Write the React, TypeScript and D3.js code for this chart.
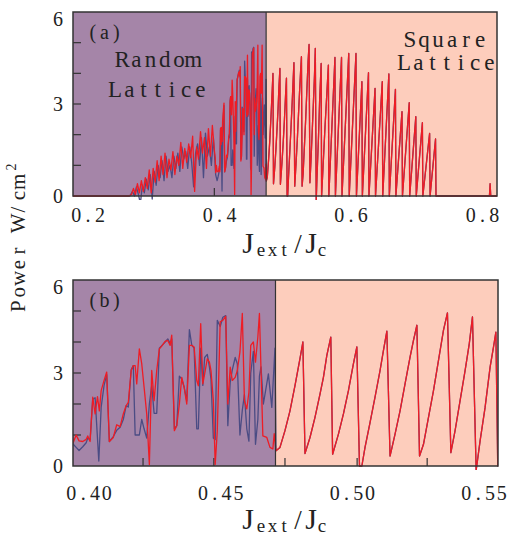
import React from 'react';
import * as d3 from 'd3';

type Pt = [number, number];

const WIDTH = 509;
const HEIGHT = 533;

// axis ticks
const yMinorTicks = [1, 2, 3, 4, 5];
const yTickLabels = [0, 3, 6];
const topTickLabels = [0.2, 0.4, 0.6, 0.8];
const topMinorTicks = [0.392];
const bottomTickLabels = [0.4, 0.45, 0.5, 0.55];
const bottomMinorTicks = [0.4205, 0.4474, 0.4744, 0.5018, 0.5284];

// J_ext / J_c where the lattice changes from random to square
const latticeBoundary = 0.4708;

// red curve, random lattice part
const redRandom: Pt[] = [
    [0.177, 0], [0.262, 0], [0.266, 0.05], [0.269, 0.25], [0.272, 0.05], [0.275, 0.4], [0.278, 0.1],
    [0.281, 0.5], [0.284, 0.15], [0.287, 0.6], [0.29, 0.25], [0.293, 0.85], [0.296, 0.1], [0.299, 0.9],
    [0.302, 0.45], [0.305, 1.15], [0.308, 0.5], [0.311, 1.3], [0.314, 0.7], [0.317, 1.4], [0.32, 0.6],
    [0.323, 1.2], [0.326, 0.85], [0.329, 1.45], [0.332, 0.7], [0.335, 1.3], [0.338, 1.0], [0.341, 1.75],
    [0.344, 0.9], [0.347, 1.55], [0.35, 1.1], [0.353, 1.7], [0.356, 1.25], [0.359, 1.95], [0.362, 0.15],
    [0.365, 1.6], [0.368, 1.2], [0.371, 2.1], [0.374, 1.4], [0.377, 1.9], [0.38, 0.9], [0.383, 2.2],
    [0.386, 1.3], [0.389, 2.3], [0.392, 1.5], [0.3934, 1.24],
    [0.394, 0.76], [0.3951, 1.0], [0.3962, 0.81], [0.3976, 0.79], [0.3989, 0.86], [0.3995, 0.97],
    [0.4004, 0.79], [0.4014, 2.22], [0.4023, 1.68], [0.4032, 2.24], [0.4039, 1.78], [0.4046, 2.43],
    [0.4057, 2.76], [0.4067, 3.03], [0.4077, 0.79], [0.4092, 0.92], [0.4105, 1.33], [0.4118, 1.27],
    [0.413, 1.68], [0.4141, 1.95], [0.4149, 2.05], [0.416, 3.08], [0.4168, 3.24], [0.4175, 3.24],
    [0.4181, 2.65], [0.4191, 3.78], [0.42, 3.3], [0.4209, 2.54], [0.4219, 1.68], [0.4229, 0.05],
    [0.4238, 3.08], [0.4247, 2.11], [0.4257, 3.08], [0.4267, 3.78], [0.4278, 3.89], [0.4289, 4.02],
    [0.4299, 4.05], [0.4308, 3.89], [0.4314, 4.22], [0.4324, 1.14], [0.4333, 1.3], [0.4343, 2.0],
    [0.4352, 2.86], [0.4361, 2.54], [0.4371, 2.0], [0.4381, 3.89], [0.439, 3.89], [0.4399, 3.84],
    [0.4409, 2.76], [0.4415, 2.59], [0.4424, 4.59], [0.4432, 2.65], [0.4439, 2.97], [0.4449, 3.46],
    [0.4457, 3.35], [0.4463, 3.08], [0.4472, 2.11], [0.4479, 0.05], [0.4487, 1.14], [0.4498, 4.65],
    [0.4508, 4.7], [0.4519, 4.83], [0.4527, 2.0], [0.4536, 3.19], [0.4544, 2.76], [0.4555, 2.86],
    [0.4563, 3.08], [0.4573, 3.68], [0.4582, 4.92], [0.459, 2.11], [0.4599, 1.84], [0.4607, 2.38],
    [0.4614, 3.89], [0.4624, 4.0], [0.4632, 3.35], [0.4641, 4.16], [0.4647, 4.92], [0.466, 0.97],
    [0.4675, 0.92], [0.4687, 0.6], [0.4698, 0.55], [0.4703, 1.04], [0.471, 0.49]
];

// blue curve, random lattice part
const blueRandom: Pt[] = [
    [0.177, 0], [0.2635, 0], [0.2675, 0.15], [0.2705, 0], [0.2735, 0.3], [0.2765, 0.05], [0.2795, -0.25],
    [0.2825, 0.35], [0.2855, 0.1], [0.2885, 0.55], [0.2915, 0.2], [0.2945, 0.7], [0.2975, -0.1], [0.3005, 0.8],
    [0.3035, 0.35], [0.3065, 1.0], [0.3095, 0.6], [0.3125, 1.15], [0.3155, 0.5], [0.3185, 1.3], [0.3215, 0.8],
    [0.3245, 1.0], [0.3275, 0.6], [0.3305, 1.3], [0.3335, 0.9], [0.3365, 1.4], [0.3395, 0.8], [0.3425, 1.6],
    [0.3455, 1.2], [0.3485, 1.45], [0.3515, 0.9], [0.3545, 1.6], [0.3575, 1.1], [0.3605, 0.3], [0.3635, 1.4],
    [0.3665, 1.7], [0.3695, 1.0], [0.3725, 1.9], [0.3755, 0.6], [0.3785, 2.05], [0.3815, 1.3], [0.3845, 1.6],
    [0.3875, 1.0], [0.3905, 1.9], [0.393, 1.1],
    [0.394, 0.7], [0.3951, 0.6], [0.3962, 0.5], [0.3976, 0.62], [0.3989, 0.75], [0.3995, 0.9],
    [0.4004, 0.85], [0.4014, 2.15], [0.4023, 2.2], [0.4037, 0.16], [0.4046, 1.9], [0.4057, 2.6],
    [0.4067, 2.95], [0.4077, 0.79], [0.4092, 0.95], [0.4105, 1.15], [0.4118, 1.25], [0.413, 1.5],
    [0.4141, 1.95], [0.4149, 1.9], [0.416, 3.1], [0.4168, 3.24], [0.4175, 1.0], [0.4191, 1.0],
    [0.42, 1.5], [0.4209, 1.2], [0.4219, 0.9], [0.4229, 2.0], [0.4238, 2.6], [0.4247, 1.7],
    [0.4257, 1.7], [0.4267, 3.8], [0.4278, 3.9], [0.4289, 4.0], [0.4299, 4.1], [0.4308, 3.95],
    [0.4314, 4.1], [0.4324, 1.2], [0.4333, 1.3], [0.4343, 2.9], [0.4352, 2.8], [0.4361, 2.55],
    [0.4371, 2.1], [0.4381, 4.4], [0.439, 3.9], [0.4399, 3.8], [0.4409, 1.2], [0.4415, 1.2],
    [0.4424, 3.8], [0.4432, 2.6], [0.4439, 3.5], [0.4449, 3.6], [0.4457, 3.2], [0.4463, 2.8],
    [0.4472, 0.9], [0.4479, 0.85], [0.4487, 4.7], [0.4498, 4.5], [0.4508, 4.8], [0.4519, 4.85],
    [0.4527, 1.3], [0.4536, 2.7], [0.4544, 3.1], [0.4555, 3.5], [0.4563, 3.3], [0.4573, 1.0],
    [0.4582, 1.8], [0.459, 2.3], [0.4599, 1.2], [0.4607, 0.8], [0.4614, 3.0], [0.4624, 3.7],
    [0.4632, 0.7], [0.4641, 1.5], [0.4647, 2.9], [0.4653, 3.2], [0.4662, 2.0], [0.4681, 2.97],
    [0.4694, 1.89], [0.4706, 3.8], [0.471, 0.49]
];

// both curves coincide on the square lattice
const squareLattice: Pt[] = [
    [0.471, 0.49], [0.4725, 0.6], [0.4744, 1.14], [0.4763, 1.78], [0.4782, 2.59], [0.4795, 3.19],
    [0.4801, 3.46], [0.4812, 4.0],
    [0.482, 0.4], [0.4839, 0.92], [0.4858, 1.57], [0.4877, 2.32], [0.489, 2.86], [0.4903, 3.57], [0.4918, 4.16],
    [0.4925, 0.38], [0.4947, 1.03], [0.4966, 1.68], [0.4985, 2.43], [0.5004, 3.3], [0.5017, 3.84],
    [0.5027, 0], [0.5036, 0], [0.5048, 0.6], [0.5067, 1.4], [0.5086, 2.22], [0.5105, 3.08], [0.5118, 3.73], [0.5131, 4.35],
    [0.5143, 0.32], [0.5162, 1.03], [0.5181, 1.78], [0.52, 2.65], [0.5219, 3.51], [0.5232, 4.05], [0.5245, 4.54],
    [0.5255, 0.32], [0.527, 0.7], [0.5289, 1.57], [0.5308, 2.43], [0.5327, 3.41], [0.5346, 4.38], [0.5361, 4.94],
    [0.5374, 0.43], [0.539, 1.14], [0.5409, 2.11], [0.5428, 3.08], [0.5444, 3.95], [0.5456, 4.81],
    [0.547, -0.14], [0.5485, 0.81], [0.5504, 1.89], [0.5523, 3.19], [0.5536, 3.84], [0.5545, 4.32],
    [0.5552, 0], [0.56, 2.1], [0.5655, 4.27], [0.5662, 0], [0.5755, 4.52], [0.5762, 0], [0.5855, 4.52],
    [0.5862, 0], [0.5965, 4.65], [0.5972, 0], [0.6075, 4.65], [0.6082, 0], [0.6165, 3.73], [0.6172, 0],
    [0.6265, 4.02], [0.6272, 0], [0.6365, 3.51], [0.6372, 0], [0.6475, 3.73], [0.6482, 0], [0.6575, 3.98],
    [0.6582, 0], [0.6675, 3.48], [0.6682, 0], [0.6775, 2.75], [0.6782, 0], [0.6885, 3.04], [0.6892, 0],
    [0.6985, 2.59], [0.6992, 0], [0.7085, 2.39], [0.7092, 0], [0.7195, 2.04], [0.7202, 0], [0.7285, 1.86],
    [0.7292, 0], [0.8105, 0], [0.8115, 0.4], [0.8125, 0], [0.822, 0]
];

const redSeries = redRandom.concat(squareLattice);
const blueSeries = blueRandom.concat(squareLattice);

const FONT = '"Liberation Serif", serif';
const PURPLE = '#a585a8';
const PEACH = '#fdcdbc';
const RED = '#ee1c25';
const BLUE = '#4b4c84';
const FRAME = '#333';
const INK = '#222';

// serif glyphs on a fixed pitch, like the half-width CJK font of the original
const MonoText = ({ x, y, text, pitch, size, anchor = 'start' }) => {
    const chars = text.split('');
    const total = chars.length * pitch;
    const x0 = anchor === 'middle' ? x - total / 2 : anchor === 'end' ? x - total : x;
    const xs = chars.map((_, i) => x0 + pitch * (i + 0.5)).join(' ');
    return (
        <text x={xs} y={y} textAnchor="middle" fontFamily={FONT} fontSize={size} fill={INK}>{text}</text>
    );
};

const Panel = ({ id, left, top, width, height, xDomain, labelTicks, minorTicks, fmt, labelDy, tag, children }) => {
    const x = d3.scaleLinear().domain(xDomain).range([left, left + width]);
    const y = d3.scaleLinear().domain([0, 6]).range([top + height, top]);
    const line = d3.line<Pt>().x(d => x(d[0])).y(d => y(d[1]));
    const bx = x(latticeBoundary);
    const bottom = top + height;
    return (
        <g>
            <defs>
                <clipPath id={id}>
                    <rect x={left} y={top - 2} width={width} height={height + 6} />
                </clipPath>
            </defs>
            <rect x={left} y={top} width={bx - left} height={height} fill={PURPLE} />
            <rect x={bx} y={top} width={left + width - bx} height={height} fill={PEACH} />
            {minorTicks.map(t => (
                <line key={'m' + t} x1={x(t)} x2={x(t)} y1={bottom} y2={bottom - 8} stroke={FRAME} strokeWidth={1.2} />
            ))}
            {yMinorTicks.map(t => (
                <line key={'y' + t} x1={left} x2={left + 8} y1={y(t)} y2={y(t)} stroke={FRAME} strokeWidth={1.2} />
            ))}
            <g clipPath={`url(#${id})`}>
                <path d={line(blueSeries)} fill="none" stroke={BLUE} strokeWidth={1.3} strokeLinejoin="round" />
                <path d={line(redSeries)} fill="none" stroke={RED} strokeWidth={1.3} strokeLinejoin="round" />
            </g>
            <line x1={bx} x2={bx} y1={top} y2={bottom} stroke={FRAME} strokeWidth={1.2} />
            <rect x={left} y={top} width={width} height={height} fill="none" stroke={FRAME} strokeWidth={1.5} />
            {yTickLabels.map(t => (
                <text key={'yl' + t} x={left - 10} y={y(t) + (t === 6 ? 7 : 0)} textAnchor="end" dominantBaseline="central"
                    fontFamily={FONT} fontSize={20} fill={INK}>{t}</text>
            ))}
            {labelTicks.map(t => (
                <MonoText key={'xl' + t} x={x(t)} y={bottom + labelDy} text={d3.format(fmt)(t)}
                    pitch={11.8} size={20} anchor="middle" />
            ))}
            <MonoText x={left + 14} y={top + 27} text={tag} pitch={11.7} size={20} />
            {children}
        </g>
    );
};

const AxisTitle = ({ baseline }) => (
    <g>
        <text x={248} y={baseline} textAnchor="middle" fontFamily={FONT} fontSize={30} fill={INK}>J</text>
        <MonoText x={255} y={baseline + 3} text="ext" pitch={11.7} size={19} />
        <text x={298} y={baseline} textAnchor="middle" fontFamily={FONT} fontSize={27} fill={INK}>/</text>
        <text x={311} y={baseline} textAnchor="middle" fontFamily={FONT} fontSize={30} fill={INK}>J</text>
        <text x={322} y={baseline + 3} textAnchor="middle" fontFamily={FONT} fontSize={19} fill={INK}>c</text>
    </g>
);

const App = () => (
    <svg width={WIDTH} height={HEIGHT} style={{ position: 'absolute', left: 0, top: 0, background: '#fff' }}>
        <Panel id="clipA" left={73} top={12} width={424} height={184} xDomain={[0.177, 0.822]}
            labelTicks={topTickLabels} minorTicks={topMinorTicks} fmt=".1f" labelDy={26} tag="(a)">
            <MonoText x={115} y={67} text="Random" pitch={14.2} size={23} />
            <MonoText x={108} y={97} text="Lattice" pitch={14.2} size={23} />
            <MonoText x={403} y={47} text="Square" pitch={14} size={23} />
            <MonoText x={397} y={70} text="Lattice" pitch={14.2} size={23} />
        </Panel>
        <Panel id="clipB" left={73} top={280} width={425} height={186} xDomain={[0.3939, 0.5553]}
            labelTicks={bottomTickLabels} minorTicks={bottomMinorTicks} fmt=".2f" labelDy={34} tag="(b)" />
        <AxisTitle baseline={253} />
        <AxisTitle baseline={529} />
        <g transform="translate(25,0) rotate(-90)">
            <MonoText x={-313} y={0} text="Power W/cm" pitch={13.8} size={21} />
            <text x={-167} y={-9} textAnchor="middle" fontFamily={FONT} fontSize={14} fill={INK}>2</text>
        </g>
    </svg>
);

export default App;
